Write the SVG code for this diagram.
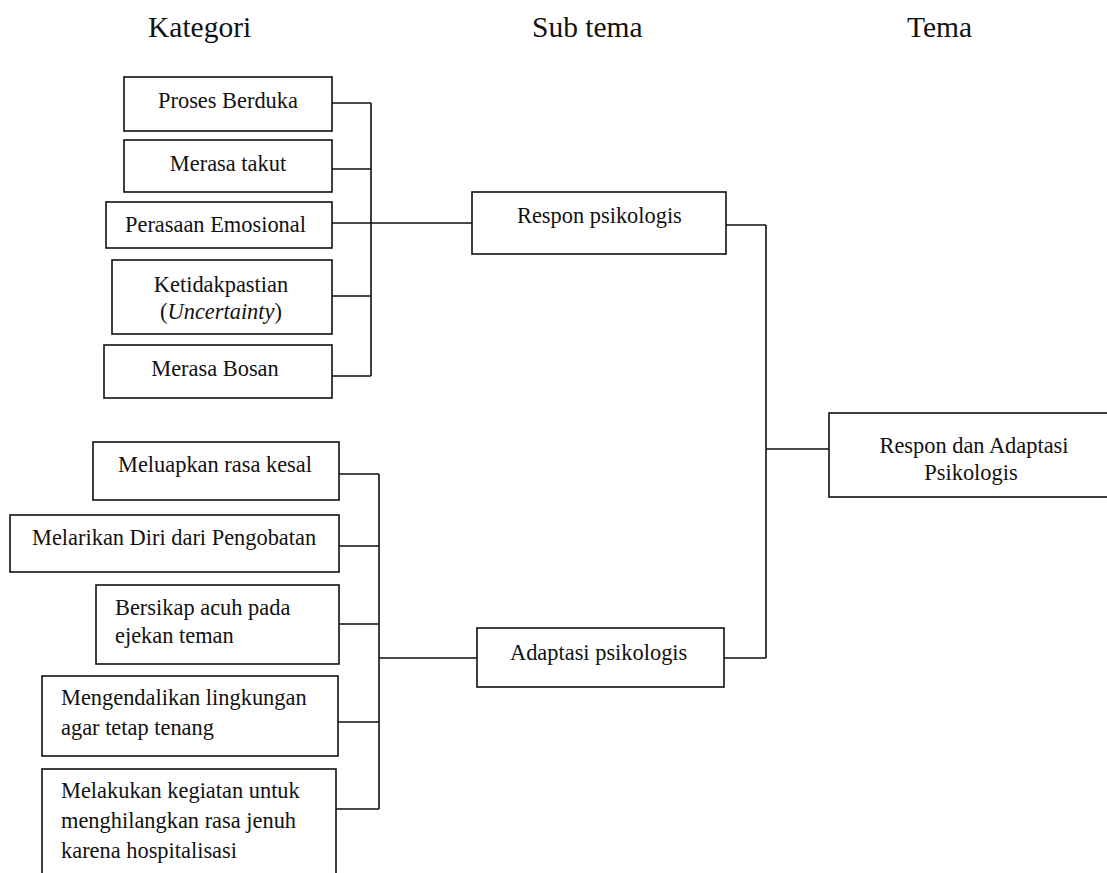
<svg xmlns="http://www.w3.org/2000/svg" width="1107" height="873" viewBox="0 0 1107 873">
<style>
.box{fill:none;stroke:#111;stroke-width:1.6}
.t{font-family:"Liberation Serif","Times New Roman",serif;font-size:22.4px;fill:#111}
.h{font-family:"Liberation Serif","Times New Roman",serif;font-size:29.5px;fill:#111}
.m{text-anchor:middle}
.c{fill:none;stroke:#111;stroke-width:1.6}
</style>
<rect width="1107" height="873" fill="#fff"/>
<g id="headers">
<text class="h" x="148" y="37">Kategori</text>
<text class="h" x="532" y="37">Sub tema</text>
<text class="h" x="907" y="37">Tema</text>
</g>
<g id="connectors">
<path class="c" d="M332 103H371M332 169H371M332 223H472M332 296H371M332 376H371M371 103V376"/>
<path class="c" d="M339 474H379M339 546H379M339 624H379M338 722H379M336 809H379M379 474V809M379 658H477"/>
<path class="c" d="M726 225H766M724 658H766M766 225V658M766 449H829"/>
</g>
<g id="n1"><rect class="box" x="124" y="77" width="208" height="54"/><text class="t m" x="228" y="108">Proses Berduka</text></g>
<g id="n2"><rect class="box" x="124" y="140" width="208" height="52"/><text class="t m" x="228" y="171">Merasa takut</text></g>
<g id="n3"><rect class="box" x="106" y="202" width="226" height="46"/><text class="t" x="125" y="232">Perasaan Emosional</text></g>
<g id="n4"><rect class="box" x="112" y="260" width="220" height="74"/><text class="t m" x="221" y="292">Ketidakpastian</text><text class="t m" x="221" y="319">(<tspan font-style="italic">Uncertainty</tspan>)</text></g>
<g id="n5"><rect class="box" x="104" y="345" width="228" height="53"/><text class="t m" x="215" y="376">Merasa Bosan</text></g>
<g id="n6"><rect class="box" x="93" y="442" width="246" height="58"/><text class="t" x="118" y="472">Meluapkan rasa kesal</text></g>
<g id="n7"><rect class="box" x="10" y="515" width="329" height="57"/><text class="t" x="32" y="545">Melarikan Diri dari Pengobatan</text></g>
<g id="n8"><rect class="box" x="96" y="585" width="243" height="79"/><text class="t" x="115" y="615">Bersikap acuh pada</text><text class="t" x="115" y="643">ejekan teman</text></g>
<g id="n9"><rect class="box" x="42" y="676" width="296" height="80"/><text class="t" x="61" y="705">Mengendalikan lingkungan</text><text class="t" x="61" y="735">agar tetap tenang</text></g>
<g id="n10"><rect class="box" x="42" y="769" width="294" height="115"/><text class="t" x="61" y="798">Melakukan kegiatan untuk</text><text class="t" x="61" y="828">menghilangkan rasa jenuh</text><text class="t" x="61" y="858">karena hospitalisasi</text></g>
<g id="s1"><rect class="box" x="472" y="192" width="254" height="62"/><text class="t" x="517" y="223">Respon psikologis</text></g>
<g id="s2"><rect class="box" x="477" y="628" width="247" height="59"/><text class="t" x="510" y="660">Adaptasi psikologis</text></g>
<g id="tema"><rect class="box" x="829" y="413" width="290" height="84"/><text class="t m" x="974" y="453">Respon dan Adaptasi</text><text class="t m" x="971" y="480">Psikologis</text></g>
</svg>
